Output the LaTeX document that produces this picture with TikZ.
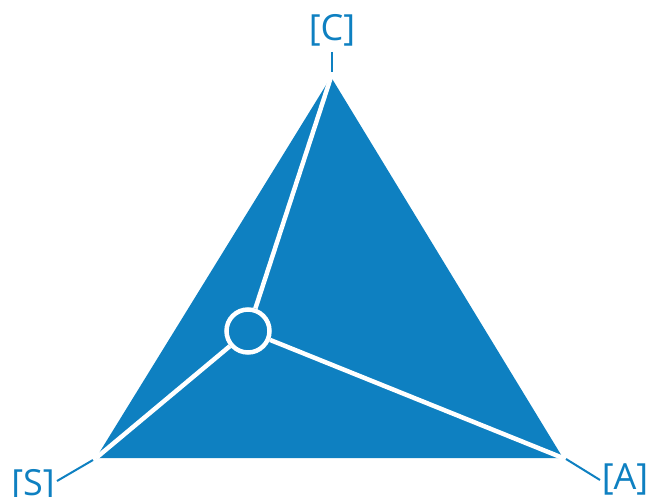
\documentclass[tikz,border=0pt]{standalone}
\usepackage{fontspec}
\setmainfont{Open Sans}
\definecolor{tblue}{HTML}{0E80C1}
\begin{document}
\begin{tikzpicture}[x=1pt,y=-1pt,
  lbl/.style={text=tblue,font=\fontsize{36}{38}\selectfont,inner sep=0pt},
  tick/.style={draw=tblue,line width=2pt},
  web/.style={draw=white,line width=4.5pt}]
\useasboundingbox (0,0) rectangle (650,497);
\coordinate (C) at (331,77);
\coordinate (S) at (96,458);
\coordinate (A) at (563,458);
\fill[tblue] (C) -- (S) -- (A) -- cycle;
\node[circle,draw=white,line width=4.5pt,minimum size=43pt,inner sep=0pt] (O) at (248,331) {};
\draw[web] (C) -- (O);
\draw[web] (S) -- (O);
\draw[web] (A) -- (O);
\node[lbl] (lC) at (332,30) {[C]};
\node[lbl] (lS) at (33,485) {[S]};
\node[lbl] (lA) at (625,479) {[A]};
\coordinate (tC1) at (332,52);
\coordinate (tC2) at (332,72);
\coordinate (tS1) at (57,481);
\coordinate (tS2) at (93,460);
\coordinate (tA1) at (566,459);
\coordinate (tA2) at (600,480);
\draw[tick] (tC1) -- (tC2);
\draw[tick] (tS1) -- (tS2);
\draw[tick] (tA1) -- (tA2);
\end{tikzpicture}
\end{document}
